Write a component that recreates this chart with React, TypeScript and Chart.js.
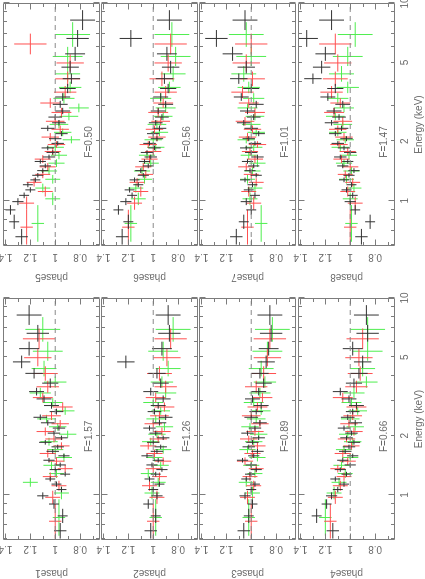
import React, { useEffect, useRef } from "react";
import { Chart, registerables } from "chart.js";
Chart.register(...registerables);

// ---------- data ----------
const energyLabels = [1, 2, 5, 10];
const energyMajor = [1, 10];
const energyMinor = [0.6, 0.7, 0.8, 0.9, 2, 3, 4, 5, 6, 7, 8, 9];
const ratioLabels = [0.8, 1, 1.2, 1.4];
const ratioMinor = [0.7, 0.9, 1.1, 1.3];

const pnEdges = [0.6, 0.72, 0.85, 0.95, 1.03, 1.1, 1.17, 1.24, 1.31, 1.38, 1.46, 1.54, 1.62, 1.71, 1.8, 1.9, 2.0, 2.12, 2.25, 2.4, 2.56, 2.74, 2.95, 3.2, 3.5, 3.9, 4.4, 5.1, 6.0, 7.3, 9.2];
const m1Edges = [0.6, 0.9, 1.05, 1.18, 1.3, 1.42, 1.55, 1.7, 1.85, 2.0, 2.2, 2.4, 2.65, 2.95, 3.3, 3.8, 4.5, 5.5, 7.0];
const m2Edges = [0.62, 0.95, 1.1, 1.22, 1.35, 1.48, 1.62, 1.78, 1.95, 2.12, 2.32, 2.55, 2.8, 3.1, 3.5, 4.0, 4.8, 6.0, 8.0];

const pnErr = [0.05, 0.04, 0.04, 0.045, 0.04, 0.04, 0.04, 0.04, 0.045, 0.045, 0.045, 0.045, 0.05, 0.05, 0.05, 0.05, 0.05, 0.05, 0.055, 0.055, 0.055, 0.06, 0.06, 0.06, 0.065, 0.07, 0.07, 0.08, 0.09, 0.1];
const m1Err = [0.05, 0.06, 0.06, 0.06, 0.06, 0.065, 0.065, 0.065, 0.07, 0.07, 0.07, 0.075, 0.08, 0.08, 0.09, 0.1, 0.11, 0.13];
const m2Err = [0.05, 0.06, 0.06, 0.06, 0.065, 0.065, 0.065, 0.07, 0.07, 0.07, 0.075, 0.075, 0.08, 0.085, 0.09, 0.1, 0.12, 0.14];

const pn1 = [0.96, 0.94, 1.01, 1.1, 0.95, 0.99, 1.04, 0.92, 1.0, 0.96, 1.05, 0.93, 1.02, 0.98, 1.08, 0.95, 1.01, 0.97, 1.06, 1.12, 0.99, 1.03, 1.09, 1.15, 1.04, 1.17, 1.27, 1.21, 1.14, 1.21];
const m1p1 = [1.0, 1.02, 0.97, 1.04, 0.92, 0.99, 1.06, 0.95, 1.01, 1.08, 0.96, 1.03, 0.94, 1.1, 1.06, 1.08, 1.14, 1.13];
const m2p1 = [0.97, 0.95, 1.2, 0.99, 1.03, 0.93, 1.0, 1.05, 0.9, 0.98, 1.07, 0.92, 1.02, 1.12, 1.0, 1.09, 1.06, 1.1];

const pn2 = [1.02, 0.98, 1.04, 0.97, 1.0, 0.95, 1.03, 0.98, 0.93, 1.01, 0.96, 1.05, 0.97, 0.94, 1.0, 0.92, 0.98, 1.03, 0.95, 0.9, 0.99, 0.96, 0.92, 1.02, 0.94, 0.97, 1.22, 0.93, 0.87, 0.88];
const m1p2 = [1.0, 0.97, 1.03, 0.95, 1.0, 0.92, 0.99, 1.04, 0.96, 0.93, 1.0, 0.95, 0.91, 0.98, 0.9, 0.95, 0.89, 0.86];
const m2p2 = [0.98, 1.01, 0.96, 1.04, 0.94, 0.99, 0.92, 1.02, 0.97, 0.91, 0.98, 0.94, 1.0, 0.9, 0.93, 0.88, 0.92, 0.84];

const pn3 = [1.06, 1.02, 0.99, 1.05, 1.0, 0.97, 1.04, 1.01, 0.96, 1.0, 1.07, 0.98, 0.95, 1.02, 0.99, 0.94, 1.03, 0.97, 0.93, 1.0, 0.96, 0.92, 0.99, 0.94, 0.9, 0.93, 0.88, 0.86, 0.84, 0.85];
const m1p3 = [1.0, 1.03, 0.98, 1.01, 0.96, 1.05, 0.99, 0.95, 1.02, 0.97, 0.93, 1.0, 0.95, 0.91, 0.96, 0.9, 0.87, 0.85];
const m2p3 = [1.02, 0.99, 1.04, 0.97, 1.0, 0.95, 1.03, 0.98, 0.94, 1.01, 0.96, 0.92, 0.98, 0.93, 0.89, 0.92, 0.87, 0.83];

const pn4 = [1.14, 1.27, 1.19, 1.15, 1.1, 1.05, 1.12, 1.03, 1.08, 1.0, 1.06, 0.98, 1.04, 1.01, 0.97, 1.03, 0.99, 1.05, 0.96, 1.02, 0.98, 0.95, 1.01, 1.08, 0.97, 0.93, 0.9, 0.98, 0.86, 0.87];
const m1p4 = [1.16, 1.12, 1.08, 1.05, 1.1, 1.02, 1.06, 0.99, 1.03, 0.97, 1.01, 0.98, 0.95, 1.06, 0.95, 0.92, 0.93, 0.9];
const m2p4 = [1.2, 1.13, 1.09, 1.04, 1.07, 1.0, 1.05, 0.98, 1.02, 0.96, 1.0, 0.94, 0.99, 0.97, 0.87, 0.9, 0.86, 0.86];

const pn5 = [1.27, 1.33, 1.36, 1.3, 1.25, 1.2, 1.22, 1.16, 1.14, 1.1, 1.08, 1.12, 1.05, 1.02, 1.06, 0.98, 1.0, 0.95, 1.06, 0.97, 1.0, 0.94, 0.96, 0.94, 0.9, 0.87, 0.88, 0.84, 0.82, 0.78];
const m1p5 = [1.23, 1.23, 1.08, 1.17, 1.1, 1.06, 1.1, 1.02, 0.99, 1.04, 0.96, 1.0, 0.95, 1.04, 0.92, 0.9, 0.88, 1.2];
const m2p5 = [1.14, 1.02, 1.1, 1.02, 1.05, 0.99, 0.97, 1.0, 0.87, 0.94, 0.97, 0.89, 0.81, 0.93, 0.88, 0.9, 0.9, 0.86];

const pn6 = [1.25, 1.2, 1.28, 1.22, 1.17, 1.19, 1.12, 1.15, 1.08, 1.1, 1.04, 1.07, 1.02, 1.05, 0.99, 1.03, 0.97, 1.0, 0.95, 0.98, 0.93, 0.96, 0.9, 0.94, 0.88, 0.91, 0.86, 0.89, 1.18, 0.87];
const m1p6 = [1.2, 1.15, 1.1, 1.13, 1.06, 1.08, 1.03, 1.0, 1.04, 0.97, 0.99, 0.94, 0.96, 0.92, 0.9, 0.93, 0.88, 0.86];
const m2p6 = [1.18, 1.12, 1.14, 1.07, 1.09, 1.02, 1.05, 0.98, 1.0, 0.95, 0.97, 0.92, 0.9, 0.94, 0.87, 0.84, 0.82, 0.85];

const pn7 = [1.12, 1.06, 1.0, 1.04, 0.97, 1.02, 0.99, 1.05, 0.96, 1.01, 0.98, 1.03, 0.95, 1.0, 1.04, 0.97, 1.02, 0.94, 1.0, 1.06, 0.98, 1.03, 0.96, 1.08, 1.0, 1.1, 1.04, 1.15, 1.28, 1.05];
const m1p7 = [1.03, 0.98, 1.02, 0.96, 1.0, 1.04, 0.97, 1.01, 0.95, 1.03, 0.99, 1.05, 0.97, 1.02, 1.07, 0.99, 1.04, 1.0];
const m2p7 = [0.92, 1.01, 0.97, 1.03, 0.99, 0.95, 1.02, 0.98, 1.04, 0.96, 1.0, 0.97, 1.03, 0.98, 1.02, 1.06, 1.0, 1.04];

const pn8 = [0.91, 0.84, 0.96, 1.0, 0.98, 1.03, 0.99, 1.05, 1.01, 0.97, 1.06, 1.02, 1.08, 1.0, 1.05, 1.1, 1.03, 1.12, 1.07, 1.15, 1.09, 1.13, 1.06, 1.18, 1.12, 1.3, 1.23, 1.2, 1.35, 1.15];
const m1p8 = [1.0, 0.96, 1.02, 0.98, 1.04, 1.0, 1.07, 1.02, 1.09, 1.05, 1.1, 1.06, 1.13, 1.08, 1.15, 1.12, 1.1, 1.12];
const m2p8 = [0.99, 1.0, 0.97, 1.03, 0.99, 1.05, 1.01, 1.08, 1.04, 1.1, 1.06, 1.12, 1.05, 1.1, 1.02, 1.07, 1.02, 0.96];

const phaseNames = ["phase1", "phase2", "phase3", "phase4", "phase5", "phase6", "phase7", "phase8"];
const fluxLabels = ["F=1.57", "F=1.26", "F=0.89", "F=0.66", "F=0.50", "F=0.56", "F=1.01", "F=1.47"];
const pnSets = [pn1, pn2, pn3, pn4, pn5, pn6, pn7, pn8];
const m1Sets = [m1p1, m1p2, m1p3, m1p4, m1p5, m1p6, m1p7, m1p8];
const m2Sets = [m2p1, m2p2, m2p3, m2p4, m2p5, m2p6, m2p7, m2p8];

// ---------- style / layout ----------
const E_MIN = 0.59, E_MAX = 10;
const R_MIN = 0.64, R_MAX = 1.42;
const FLUX_E = 1.65;
const FRAME = "#7c7c7c";
const TEXT = "#6a6a6a";
const BLACK = "#333333";
const RED = "#ff5050";
const GREEN = "#4fee4f";
const FONT = '"Liberation Sans", Arial, sans-serif';
const W = 579, H = 425;
const ROW_TOPS = [3, 101, 199, 298];
const ROW_H = 97;
const PAD = 8;

function bars(edges: number[], vals: number[], errs: number[]) {
  const pts: any[] = [];
  for (let i = 0; i < vals.length; i++) {
    const lo = edges[i], hi = edges[i + 1];
    const c = Math.sqrt(lo * hi);
    const r = vals[i], e = errs[i];
    pts.push({ x: lo, y: r }, { x: hi, y: r }, { x: hi, y: null });
    pts.push({ x: c, y: r - e }, { x: c, y: r + e }, { x: c, y: null });
  }
  return pts;
}

const framePlugin = {
  id: "frame",
  afterDatasetsDraw(chart: any, _args: any, opts: any) {
    const { ctx, chartArea: a, scales } = chart;
    const xs = scales.x, ys = scales.y;
    const L = Math.round(a.left) + 0.5, R = Math.round(a.right) - 0.5;
    const T = Math.round(a.top) + 0.5, B = Math.round(a.bottom) - 0.5;
    ctx.save();
    ctx.strokeStyle = FRAME;
    ctx.lineWidth = 1;
    ctx.beginPath();
    ctx.rect(L, T, R - L, B - T);
    const xt = (vals: number[], len: number) => {
      for (const v of vals) {
        const x = Math.round(xs.getPixelForValue(v)) + 0.5;
        ctx.moveTo(x, B); ctx.lineTo(x, B - len);
        ctx.moveTo(x, T); ctx.lineTo(x, T + len);
      }
    };
    const yt = (vals: number[], len: number) => {
      for (const v of vals) {
        const y = Math.round(ys.getPixelForValue(v)) + 0.5;
        ctx.moveTo(L, y); ctx.lineTo(L + len, y);
        ctx.moveTo(R, y); ctx.lineTo(R - len, y);
      }
    };
    xt(energyMajor, 6);
    xt(energyMinor, 3.5);
    yt(ratioLabels, 6);
    yt(ratioMinor, 3.5);
    ctx.stroke();
    ctx.fillStyle = TEXT;
    ctx.font = "10px " + FONT;
    ctx.textAlign = "left";
    ctx.textBaseline = "middle";
    ctx.fillText(opts.label, xs.getPixelForValue(FLUX_E), a.bottom - 11);
    ctx.restore();
  },
};

function Panel({ idx }: { idx: number }) {
  const ref = useRef<HTMLCanvasElement>(null);
  const col = idx < 4 ? 0 : 1;
  const row = idx % 4;
  const isBottom = row === 3;
  const left = col === 0 ? 0 : 290;
  const width = col === 0 ? 290 : 289;
  const top = ROW_TOPS[row] - PAD;
  const height = isBottom ? H - top : ROW_H + 2 * PAD;

  useEffect(() => {
    const chart = new Chart(ref.current as HTMLCanvasElement, {
      type: "line",
      data: {
        datasets: [
          {
            data: [{ x: E_MIN, y: 1 }, { x: E_MAX, y: 1 }],
            borderColor: "#8a8a8a", borderWidth: 1, borderDash: [5, 4], pointRadius: 0,
          },
          { data: bars(pnEdges, pnSets[idx], pnErr), borderColor: BLACK, borderWidth: 1, pointRadius: 0, spanGaps: false },
          { data: bars(m1Edges, m1Sets[idx], m1Err), borderColor: RED, borderWidth: 1, pointRadius: 0, spanGaps: false },
          { data: bars(m2Edges, m2Sets[idx], m2Err), borderColor: GREEN, borderWidth: 1, pointRadius: 0, spanGaps: false },
        ] as any,
      },
      options: {
        animation: false,
        responsive: false,
        maintainAspectRatio: false,
        devicePixelRatio: 1,
        events: [],
        layout: { padding: { top: PAD, bottom: isBottom ? 0 : PAD, left: 0, right: col === 0 ? 9 : 3 } },
        plugins: { legend: { display: false }, tooltip: { enabled: false }, frame: { label: fluxLabels[idx] } } as any,
        scales: {
          x: {
            type: "logarithmic", min: E_MIN, max: E_MAX, display: isBottom,
            grid: { display: false, drawTicks: false }, border: { display: false },
            ticks: { color: TEXT, font: { family: FONT, size: 10 }, padding: 4, autoSkip: false, maxRotation: 0, callback: (v: any) => String(v) },
            title: { display: true, text: "Energy (keV)", color: TEXT, font: { family: FONT, size: 10 }, padding: { top: 0, bottom: 0 } },
            afterBuildTicks: (s: any) => { s.ticks = energyLabels.map((v) => ({ value: v })); },
            afterFit: (s: any) => { s.height = isBottom ? 30 : 0; s.paddingLeft = 0; s.paddingRight = 0; },
          },
          y: {
            type: "linear", min: R_MIN, max: R_MAX, bounds: "data",
            grid: { display: false, drawTicks: false }, border: { display: false },
            ticks: { color: TEXT, font: { family: FONT, size: 10 }, minRotation: 90, maxRotation: 90, crossAlign: "center", padding: col === 0 ? 2 : 4, autoSkip: false, callback: (v: any) => String(v) },
            title: { display: true, text: phaseNames[idx], color: TEXT, font: { family: FONT, size: 10 }, padding: { top: col === 0 ? 0 : 6, bottom: 0 } },
            afterBuildTicks: (s: any) => { s.ticks = ratioLabels.map((v) => ({ value: v })); },
            afterFit: (s: any) => { s.width = col === 0 ? 39 : 43; s.paddingTop = 0; s.paddingBottom = 0; },
          },
        } as any,
      },
      plugins: [framePlugin as any],
    });
    return () => chart.destroy();
  }, []);

  return (
    <canvas
      ref={ref}
      width={width}
      height={height}
      style={{ position: "absolute", left, top, width, height }}
    />
  );
}

export default function App() {
  return (
    <div style={{ position: "fixed", left: 0, top: 0, width: 425, height: 579, overflow: "hidden", background: "#ffffff" }}>
      <div
        style={{
          position: "absolute", left: 0, top: 0, width: W, height: H,
          transformOrigin: "0 0", transform: "translate(0px, 579px) rotate(-90deg)",
        }}
      >
        {phaseNames.map((_, i) => (
          <Panel key={i} idx={i} />
        ))}
      </div>
    </div>
  );
}
